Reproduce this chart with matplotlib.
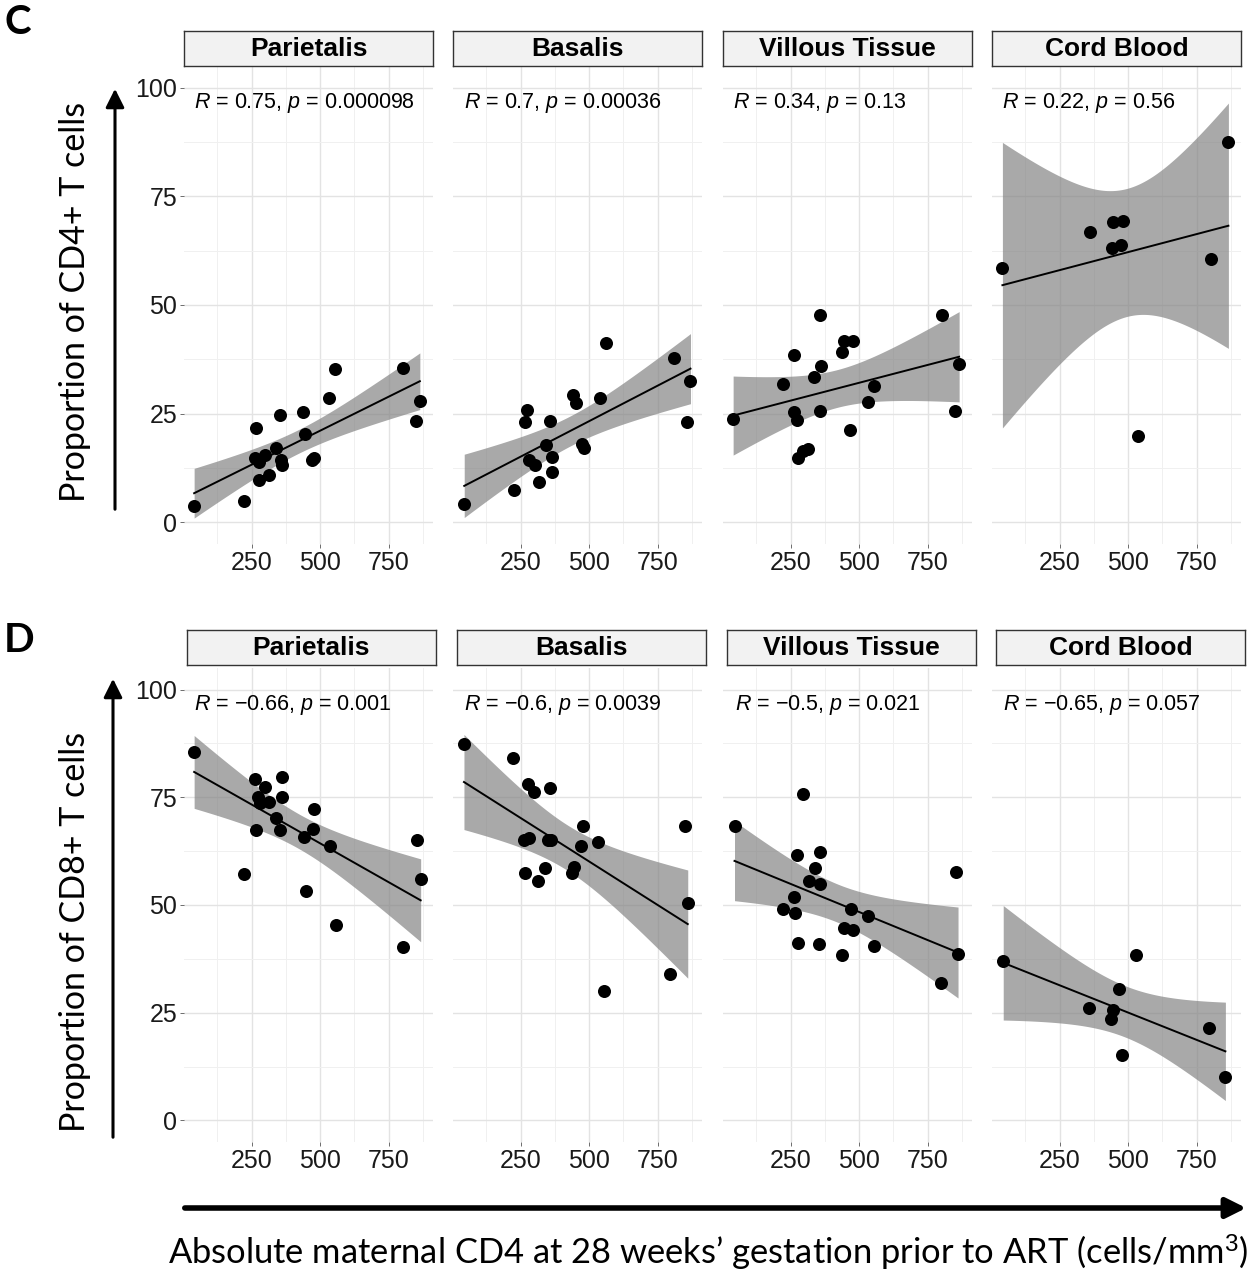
import numpy as np
import matplotlib
matplotlib.use('Agg')
import matplotlib.pyplot as plt
from matplotlib.patches import FancyArrowPatch

plt.rcParams['font.family'] = ['Liberation Sans', 'DejaVu Sans']
plt.rcParams['mathtext.fontset'] = 'custom'
plt.rcParams['mathtext.it'] = 'Liberation Sans:italic'
plt.rcParams['mathtext.rm'] = 'Liberation Sans'

tissues = ['Parietalis', 'Basalis', 'Villous Tissue', 'Cord Blood']

# CD4+ proportions (panel C)
cd4_x = {
    'Parietalis': [40, 221, 266, 261, 275, 275, 297, 314, 338, 354, 357, 360, 438, 444, 471, 477, 533, 553, 801, 851, 864],
    'Basalis': [44, 225, 272, 266, 358, 279, 303, 316, 342, 364, 364, 442, 451, 475, 481, 538, 560, 808, 856, 870],
    'Villous Tissue': [40, 221, 263, 264, 273, 275, 295, 313, 337, 357, 360, 357, 438, 444, 478, 468, 533, 553, 802, 850, 865],
    'Cord Blood': [41, 361, 446, 482, 440, 473, 536, 804, 866],
}
cd4_y = {
    'Parietalis': [3.8, 4.9, 21.6, 14.8, 13.9, 9.7, 15.4, 10.8, 17.0, 24.7, 14.3, 13.1, 25.4, 20.2, 14.3, 14.7, 28.5, 35.2, 35.6, 23.3, 27.9],
    'Basalis': [4.1, 7.5, 25.8, 23.0, 23.3, 14.3, 13.1, 9.3, 17.7, 15.1, 11.6, 29.4, 27.5, 18.1, 17.0, 28.7, 41.2, 37.7, 23.1, 32.6],
    'Villous Tissue': [23.7, 31.8, 38.6, 25.3, 23.5, 14.8, 16.4, 16.8, 33.5, 47.7, 35.9, 25.6, 39.2, 41.7, 41.7, 21.2, 27.6, 31.3, 47.7, 25.6, 36.4],
    'Cord Blood': [58.6, 66.7, 69.0, 69.4, 63.2, 63.7, 19.9, 60.6, 87.6],
}
cd4_lab = ['0.75', '0.7', '0.34', '0.22']
cd4_p = ['0.000098', '0.00036', '0.13', '0.56']

# CD8+ proportions (panel D)
cd8_x = {
    'Parietalis': [40, 263, 297, 273, 279, 315, 360, 360, 340, 355, 267, 221, 440, 479, 473, 449, 535, 557, 802, 853, 867],
    'Basalis': [43, 221, 275, 297, 357, 263, 281, 350, 361, 267, 339, 315, 443, 437, 477, 470, 533, 555, 797, 851, 860],
    'Villous Tissue': [45, 294, 274, 357, 339, 316, 358, 262, 222, 267, 276, 354, 469, 445, 478, 439, 532, 555, 799, 853, 861],
    'Cord Blood': [44, 357, 444, 438, 468, 476, 530, 794, 855],
}
cd8_y = {
    'Parietalis': [85.4, 79.2, 77.4, 75.0, 73.6, 74.0, 79.8, 75.0, 70.3, 67.4, 67.4, 57.1, 65.7, 72.3, 67.7, 53.3, 63.6, 45.3, 40.2, 65.1, 56.0],
    'Basalis': [87.4, 84.0, 78.1, 76.2, 77.1, 65.1, 65.5, 65.1, 65.0, 57.4, 58.7, 55.6, 58.8, 57.4, 68.4, 63.6, 64.7, 30.1, 34.0, 68.4, 50.4],
    'Villous Tissue': [68.4, 75.8, 61.6, 62.2, 58.5, 55.6, 54.8, 51.8, 49.0, 48.1, 41.1, 40.9, 49.0, 44.7, 44.2, 38.4, 47.5, 40.5, 32.0, 57.7, 38.6],
    'Cord Blood': [37.0, 26.0, 25.7, 23.5, 30.4, 15.1, 38.4, 21.5, 10.1],
}
cd8_lab = ['\u22120.66', '\u22120.6', '\u22120.5', '\u22120.65']
cd8_p = ['0.001', '0.0039', '0.021', '0.057']

# t quantiles (97.5%) by degrees of freedom
t975 = {7: 2.365, 18: 2.101, 19: 2.093}

W, H = 1251, 1280
fig = plt.figure(figsize=(W / 100, H / 100), dpi=100)


def px_axes(l, t, w, h):
    return fig.add_axes([l / W, 1 - (t + h) / H, w / W, h / H])


def smooth(ax, x, y):
    x = np.asarray(x, float)
    y = np.asarray(y, float)
    n = len(x)
    b, a = np.polyfit(x, y, 1)
    res = y - (a + b * x)
    s = np.sqrt(np.sum(res ** 2) / (n - 2))
    sxx = np.sum((x - x.mean()) ** 2)
    xs = np.linspace(x.min(), x.max(), 100)
    yh = a + b * xs
    se = s * np.sqrt(1 / n + (xs - x.mean()) ** 2 / sxx)
    tq = t975[n - 2]
    ax.fill_between(xs, yh - tq * se, yh + tq * se, color='#808080', alpha=0.68, lw=0, zorder=2)
    ax.plot(xs, yh, color='black', lw=1.4, zorder=3)


lefts = [184, 453, 723, 992]
rows = [
    dict(xs=cd4_x, ys=cd4_y, r=cd4_lab, p=cd4_p, top=66, h=478, strip_t=31, strip_l=[184, 453, 723, 992],
         ylab='Proportion of CD4+ T cells', ylab_y=302, letter='C', letter_y=22, arrow=(115, 512, 86)),
    dict(xs=cd8_x, ys=cd8_y, r=cd8_lab, p=cd8_p, top=668, h=474, strip_t=630, strip_l=[187, 457, 727, 996],
         ylab='Proportion of CD8+ T cells', ylab_y=932, letter='D', letter_y=640, arrow=(113, 1140, 676)),
]

for row in rows:
    for i, tis in enumerate(tissues):
        ax = px_axes(lefts[i], row['top'], 249, row['h'])
        x = row['xs'][tis]
        y = row['ys'][tis]
        ax.scatter(x, y, s=88, color='black', zorder=4, linewidths=0)
        smooth(ax, x, y)
        ax.set_xlim(3, 912)
        ax.set_ylim(-5, 105)
        ax.set_xticks([250, 500, 750])
        ax.set_xticks([125, 375, 625, 875], minor=True)
        ax.set_yticks([0, 25, 50, 75, 100])
        ax.set_yticks([12.5, 37.5, 62.5, 87.5], minor=True)
        ax.grid(which='major', color='#E3E3E3', lw=1.0, zorder=0)
        ax.grid(which='minor', color='#F0F0F0', lw=0.7, zorder=0)
        ax.set_axisbelow(True)
        for sp in ax.spines.values():
            sp.set_visible(False)
        ax.tick_params(which='minor', length=0)
        ax.tick_params(which='major', length=3, width=0.6, color='#555555', labelcolor='#1a1a1a',
                       labelsize=18, pad=2)
        if i > 0:
            ax.tick_params(axis='y', length=0, labelleft=False)
        ax.text(min(x), 96.5, r'$\it{R}$ = ' + row['r'][i] + r', $\it{p}$ = ' + row['p'][i],
                fontsize=15.5, ha='left', va='center', color='black')
        # facet strip
        sax = px_axes(row['strip_l'][i], row['strip_t'], 249, 35)
        sax.set_facecolor('#F2F2F2')
        sax.set_xticks([])
        sax.set_yticks([])
        for sp in sax.spines.values():
            sp.set_color('#333333')
            sp.set_linewidth(1.0)
        sax.text(0.5, 0.48, tis, ha='center', va='center', fontsize=19, fontweight='bold',
                 transform=sax.transAxes)

    fig.text(75 / W, 1 - row['ylab_y'] / H, row['ylab'], rotation=90, ha='center', va='center',
             fontsize=24.5, family=['Lato', 'DejaVu Sans'])
    fig.text(4 / W, 1 - row['letter_y'] / H, row['letter'], ha='left', va='center',
             fontsize=29, fontweight='bold', family=['Lato', 'DejaVu Sans'])
    ax_x, y0, y1 = row['arrow']
    fig.add_artist(FancyArrowPatch((ax_x / W, 1 - y0 / H), (ax_x / W, 1 - y1 / H),
                                   transform=fig.transFigure, arrowstyle='-|>', mutation_scale=28,
                                   lw=2.2, color='black'))

fig.add_artist(FancyArrowPatch((182 / W, 1 - 1208 / H), (1249 / W, 1 - 1208 / H),
                               transform=fig.transFigure, arrowstyle='-|>', mutation_scale=30,
                               lw=4, color='black'))
fig.text(708 / W, 1 - 1253 / H,
         'Absolute maternal CD4 at 28 weeks\u2019 gestation prior to ART (cells/mm$^3$)',
         ha='center', va='center', fontsize=24.8, family=['Lato', 'DejaVu Sans'])

fig.savefig('out.png', dpi=100)
